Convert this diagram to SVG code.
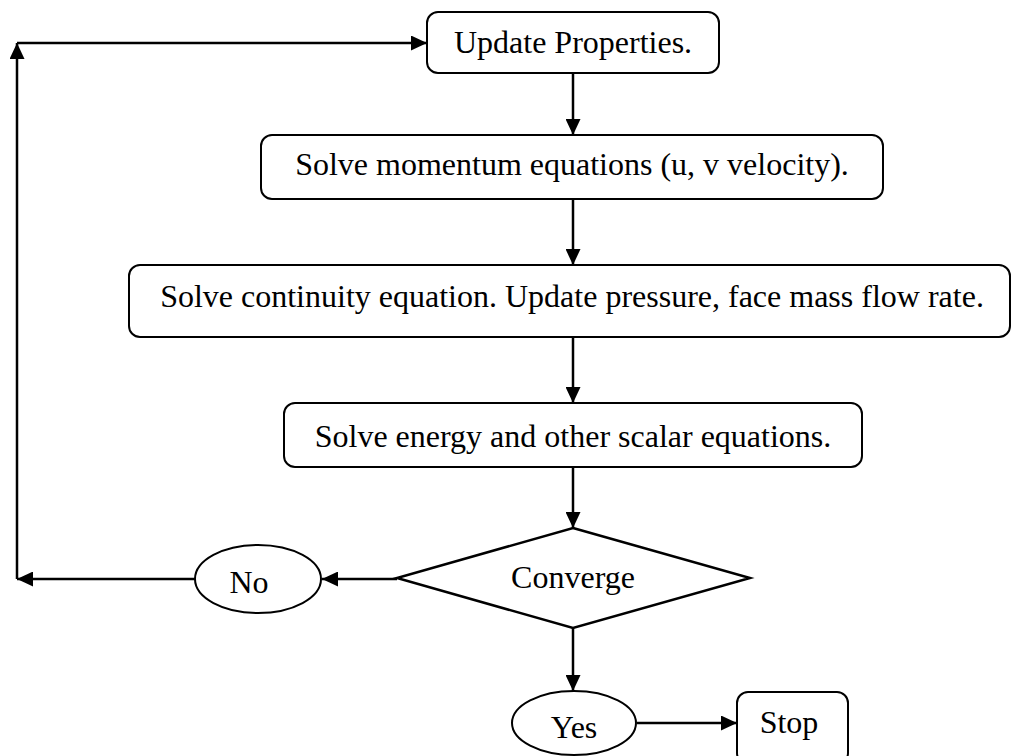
<svg xmlns="http://www.w3.org/2000/svg" width="1011" height="756" viewBox="0 0 1011 756">
<style>
.box{fill:#fff;stroke:#000;stroke-width:2}
.lbl{font-family:"Liberation Serif","Times New Roman",serif;font-size:32px;fill:#000;text-anchor:middle}
.con{fill:none;stroke:#000;stroke-width:2.5}
</style>
<defs>
<marker id="ah" viewBox="0 0 16 15" refX="16" refY="7.5" markerWidth="16" markerHeight="15" markerUnits="userSpaceOnUse" orient="auto">
<path d="M0,0 L16,7.5 L0,15 z" fill="#000"/>
</marker>
</defs>
<rect width="1011" height="756" fill="#fff"/>
<g id="connectors">
<line class="con" x1="573" y1="73" x2="573" y2="135" marker-end="url(#ah)"/>
<line class="con" x1="573" y1="199" x2="573" y2="265" marker-end="url(#ah)"/>
<line class="con" x1="573" y1="337" x2="573" y2="403" marker-end="url(#ah)"/>
<line class="con" x1="573" y1="467" x2="573" y2="528" marker-end="url(#ah)"/>
<line class="con" x1="573" y1="628" x2="573" y2="691" marker-end="url(#ah)"/>
<line class="con" x1="397" y1="579" x2="322" y2="579" marker-end="url(#ah)"/>
<line class="con" x1="195" y1="579" x2="17" y2="579" marker-end="url(#ah)"/>
<line class="con" x1="17" y1="579" x2="17" y2="43" marker-end="url(#ah)"/>
<line class="con" x1="17" y1="43" x2="427" y2="43" marker-end="url(#ah)"/>
<line class="con" x1="637" y1="723" x2="737" y2="723" marker-end="url(#ah)"/>
</g>
<g id="update">
<rect class="box" x="427" y="12" width="292" height="61" rx="11"/>
<text class="lbl" x="573" y="53">Update Properties.</text>
</g>
<g id="momentum">
<rect class="box" x="261" y="135" width="622" height="64" rx="11"/>
<text class="lbl" x="572" y="175">Solve momentum equations (u, v velocity).</text>
</g>
<g id="continuity">
<rect class="box" x="129" y="265" width="881" height="72" rx="11"/>
<text class="lbl" x="572" y="307">Solve continuity equation. Update pressure, face mass flow rate.</text>
</g>
<g id="energy">
<rect class="box" x="284" y="403" width="578" height="64" rx="11"/>
<text class="lbl" x="573" y="447">Solve energy and other scalar equations.</text>
</g>
<g id="converge">
<polygon points="573,528 750,578 573,628 397,578" fill="#fff" stroke="#000" stroke-width="2.5"/>
<text class="lbl" x="573" y="588">Converge</text>
</g>
<g id="no">
<ellipse cx="258" cy="579" rx="63" ry="34" fill="#fff" stroke="#000" stroke-width="2"/>
<text class="lbl" x="249" y="593">No</text>
</g>
<g id="yes">
<ellipse cx="574" cy="723" rx="62" ry="32" fill="#fff" stroke="#000" stroke-width="2"/>
<text class="lbl" x="574" y="738">Yes</text>
</g>
<g id="stop">
<rect class="box" x="737" y="692" width="111" height="72" rx="11"/>
<text class="lbl" x="789" y="733">Stop</text>
</g>
</svg>
